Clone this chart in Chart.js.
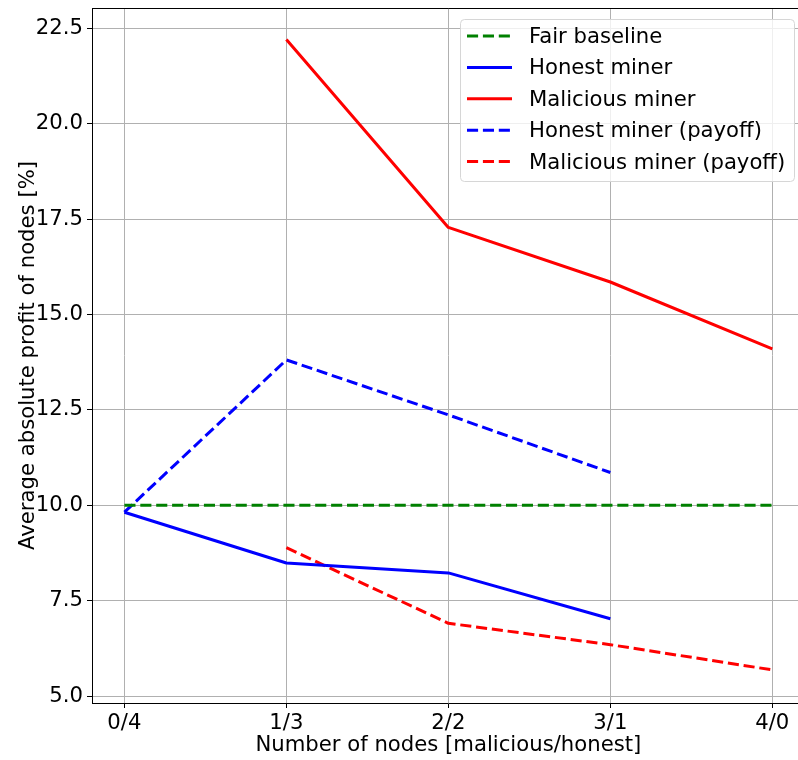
<!DOCTYPE html>
<html><head><meta charset="utf-8">
<script src="https://cdn.jsdelivr.net/npm/chart.js@4"></script>
<style>html,body{margin:0;padding:0;background:#fff;overflow:hidden;width:798px;height:760px}</style>
</head><body>
<canvas id="c" width="806" height="760" style="display:block;width:806px;height:760px"></canvas>
<script>
const categories = ['0/4', '1/3', '2/2', '3/1', '4/0'];
const fairBaseline = [10, 10, 10, 10, 10];
const honestMiner = [9.82, 8.49, 8.23, 7.03, null];
const maliciousMiner = [null, 22.2, 17.28, 15.85, 14.1];
const honestPayoff = [9.82, 13.81, 12.37, 10.86, null];
const maliciousPayoff = [null, 8.89, 6.91, 6.35, 5.69];
const yTicks = [5.0, 7.5, 10.0, 12.5, 15.0, 17.5, 20.0, 22.5];
const seriesLabels = ['Fair baseline', 'Honest miner', 'Malicious miner', 'Honest miner (payoff)', 'Malicious miner (payoff)'];

const FONT = "'DejaVu Sans', sans-serif";
const FS = 21.2;
const DASH = [11.1, 4.8];

function pts(arr) {
  const out = [];
  arr.forEach((v, i) => { if (v !== null) out.push({x: i, y: v}); });
  return out;
}
function ds(label, arr, color, dashed) {
  return {
    label, data: pts(arr), borderColor: color, backgroundColor: color,
    borderWidth: 3, borderDash: dashed ? DASH : [], pointRadius: 0,
    pointHoverRadius: 0, tension: 0, fill: false, borderCapStyle: 'butt', borderJoinStyle: 'round'
  };
}

const frameAndLegend = {
  id: 'frameAndLegend',
  afterDatasetsDraw(chart) {
    const ctx = chart.ctx, a = chart.chartArea;
    ctx.save();
    // top and right spines
    ctx.strokeStyle = '#000'; ctx.lineWidth = 1;
    ctx.beginPath();
    ctx.moveTo(a.left, Math.round(a.top) + 0.5); ctx.lineTo(Math.round(a.right) + 0.5, Math.round(a.top) + 0.5);
    ctx.lineTo(Math.round(a.right) + 0.5, a.bottom);
    ctx.stroke();
    // legend
    const bx = 460.5, by = 19.5, bw = 334, bh = 162, r = 4;
    ctx.beginPath();
    ctx.moveTo(bx + r, by); ctx.lineTo(bx + bw - r, by); ctx.arcTo(bx + bw, by, bx + bw, by + r, r);
    ctx.lineTo(bx + bw, by + bh - r); ctx.arcTo(bx + bw, by + bh, bx + bw - r, by + bh, r);
    ctx.lineTo(bx + r, by + bh); ctx.arcTo(bx, by + bh, bx, by + bh - r, r);
    ctx.lineTo(bx, by + r); ctx.arcTo(bx, by, bx + r, by, r); ctx.closePath();
    ctx.fillStyle = 'rgba(255,255,255,0.8)'; ctx.fill();
    ctx.strokeStyle = '#d6d6d6'; ctx.lineWidth = 1; ctx.stroke();
    const rows = [36, 67.4, 98.8, 130.2, 161.6];
    chart.data.datasets.forEach((d, i) => {
      const y = rows[i];
      ctx.strokeStyle = d.borderColor; ctx.lineWidth = 3; ctx.lineCap = 'butt';
      ctx.setLineDash(d.borderDash || []);
      ctx.beginPath(); ctx.moveTo(467, y); ctx.lineTo(512, y); ctx.stroke();
      ctx.setLineDash([]);
      ctx.fillStyle = '#000'; ctx.font = FS + 'px ' + FONT;
      ctx.textBaseline = 'middle'; ctx.textAlign = 'left';
      ctx.fillText(d.label, 529, y + 1.5);
    });
    ctx.restore();
  }
};

new Chart(document.getElementById('c'), {
  type: 'line',
  data: {
    datasets: [
      ds(seriesLabels[0], fairBaseline, '#008000', true),
      ds(seriesLabels[1], honestMiner, '#0000ff', false),
      ds(seriesLabels[2], maliciousMiner, '#ff0000', false),
      ds(seriesLabels[3], honestPayoff, '#0000ff', true),
      ds(seriesLabels[4], maliciousPayoff, '#ff0000', true)
    ]
  },
  options: {
    responsive: false, animation: false, devicePixelRatio: 1,
    layout: {padding: {left: 0, top: 8, right: 1.3, bottom: 0}},
    plugins: {legend: {display: false}, tooltip: {enabled: false}},
    events: [],
    scales: {
      x: {
        type: 'linear', min: -0.2, max: 4.2,
        afterBuildTicks: s => { s.ticks = categories.map((c, i) => ({value: i})); },
        afterFit: s => { s.height = 57; s.paddingLeft = 0; s.paddingRight = 0; },
        ticks: {
          callback: v => categories[Math.round(v)],
          font: {family: FONT, size: FS}, color: '#000', padding: 3, maxRotation: 0, autoSkip: false
        },
        grid: {color: '#b0b0b0', lineWidth: 1, tickColor: '#000', tickLength: 5, drawTicks: true},
        border: {display: true, color: '#000', width: 1},
        title: {display: true, text: 'Number of nodes [malicious/honest]', font: {family: FONT, size: FS}, color: '#000', padding: {top: 0, bottom: 1.5}}
      },
      y: {
        type: 'linear', min: 4.8225, max: 23.0275,
        afterBuildTicks: s => { s.ticks = yTicks.map(v => ({value: v})); },
        afterFit: s => { s.width = 92; s.paddingTop = 0; s.paddingBottom = 0; },
        ticks: {
          callback: v => Number(v).toFixed(1),
          font: {family: FONT, size: FS}, color: '#000', padding: 4
        },
        grid: {color: '#b0b0b0', lineWidth: 1, tickColor: '#000', tickLength: 5, drawTicks: true},
        border: {display: true, color: '#000', width: 1},
        title: {display: true, text: 'Average absolute profit of nodes [%]', font: {family: FONT, size: FS}, color: '#000', padding: {top: 16, bottom: 0}}
      }
    }
  },
  plugins: [frameAndLegend]
});
</script>
</body></html>
